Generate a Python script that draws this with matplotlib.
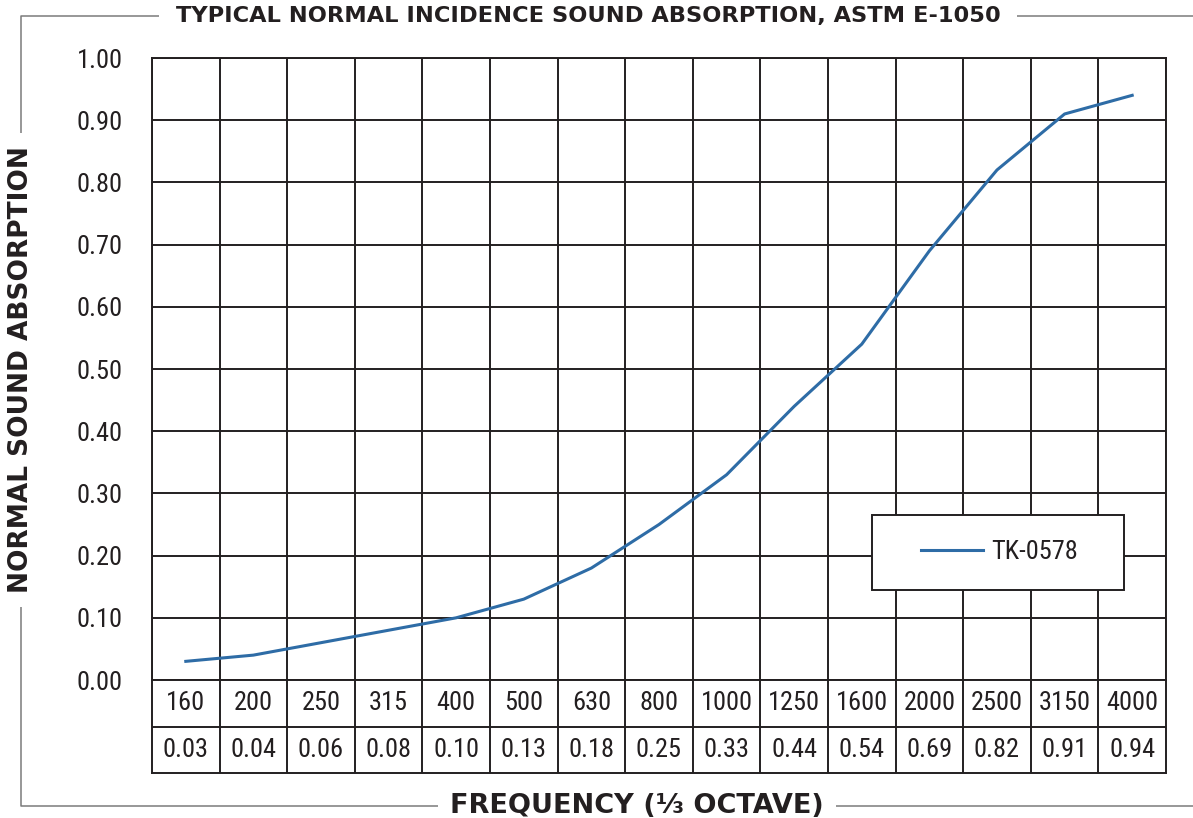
import matplotlib
matplotlib.use('Agg')
import matplotlib.pyplot as plt
import numpy as np
from matplotlib import font_manager
from matplotlib.lines import Line2D
from matplotlib.patches import Rectangle

#region data
freqs = ['160', '200', '250', '315', '400', '500', '630', '800', '1000',
         '1250', '1600', '2000', '2500', '3150', '4000']
absorption = [0.03, 0.04, 0.06, 0.08, 0.10, 0.13, 0.18, 0.25, 0.33,
              0.44, 0.54, 0.69, 0.82, 0.91, 0.94]
series_name = 'TK-0578'
yticks = np.arange(0, 1.01, 0.1)
#endregion

#region fonts
names = {f.name for f in font_manager.fontManager.ttflist}
narrow = next((n for n in ['Liberation Sans Narrow', 'Roboto Condensed', 'Open Sans Condensed']
               if n in names), 'DejaVu Sans')
NARROW = dict(family=[narrow, 'DejaVu Sans'], stretch='condensed')
BOLD = dict(family=['DejaVu Sans'], weight='bold')
#endregion

DARK = '#231f20'
BLUE = '#2e6ca6'
FRAME = '#7a7a7a'
W, H = 1193, 818

#region plots
fig = plt.figure(figsize=(W / 100, H / 100), dpi=100)
ax = fig.add_axes([152 / W, 1 - 680 / H, 1014 / W, 622 / H])
n = len(freqs)
x = np.arange(n)
ax.plot(x, absorption, color=BLUE, lw=2.2, label=series_name, zorder=3)
ax.set_xlim(-0.5, n - 0.5)
ax.set_ylim(0, 1)
ax.set_xticks(np.arange(-0.5, n, 1))
ax.set_xticklabels([])
ax.set_yticks(yticks)
ax.set_yticklabels([f'{v:.2f}' for v in yticks], **NARROW)
ax.tick_params(length=0, pad=21, labelsize=19, labelcolor=DARK)
ax.grid(True, color=DARK, lw=1.4)
for s in ax.spines.values():
    s.set_color(DARK)
    s.set_linewidth(1.4)

# legend box
ax.add_patch(Rectangle((0.710, 0.145), 0.249, 0.121, transform=ax.transAxes,
                       facecolor='white', edgecolor=DARK, lw=1.4, zorder=4))
leg = ax.legend(loc='center', bbox_to_anchor=(0.836, 0.205), frameon=False,
                handlelength=2.35, handletextpad=0.3,
                prop=font_manager.FontProperties(family=[narrow, 'DejaVu Sans'],
                                                 stretch='condensed', size=19))
leg.set_zorder(5)
for t in leg.get_texts():
    t.set_color(DARK)

# table below the plot
tax = fig.add_axes([152 / W, 1 - 773 / H, 1014 / W, 93 / H])
tax.set_xlim(-0.5, n - 0.5)
tax.set_ylim(0, 2)
tax.set_xticks([])
tax.set_yticks([])
for s in tax.spines.values():
    s.set_color(DARK)
    s.set_linewidth(1.4)
for b in np.arange(0.5, n - 0.5, 1):
    tax.axvline(b, color=DARK, lw=1.4)
tax.axhline(1, color=DARK, lw=1.4)
for i in range(n):
    tax.text(i, 1.5, freqs[i], ha='center', va='center', fontsize=19, color=DARK, **NARROW)
    tax.text(i, 0.5, f'{absorption[i]:.2f}', ha='center', va='center', fontsize=19,
             color=DARK, **NARROW)

# outer frame with labels cutting through it
xl, yt, yb = 21 / W, 1 - 16 / H, 1 - 806 / H
fig.add_artist(Line2D([1, xl, xl, 1], [yt, yt, yb, yb], color=FRAME, lw=1.1,
                      transform=fig.transFigure))
fig.text(588 / W, yt, 'TYPICAL NORMAL INCIDENCE SOUND ABSORPTION, ASTM E-1050',
         ha='center', va='center', fontsize=16.2, color=DARK, zorder=5,
         bbox=dict(boxstyle='square,pad=0.75', fc='white', ec='none'), **BOLD)
fig.text(xl, 1 - 370 / H, 'NORMAL SOUND ABSORPTION', rotation=90,
         ha='center', va='center', fontsize=19, color=DARK, zorder=5,
         bbox=dict(boxstyle='square,pad=0.5', fc='white', ec='none'), **BOLD)
fig.text(637 / W, yb, 'FREQUENCY (\u2153 OCTAVE)',
         ha='center', va='center', fontsize=19.5, color=DARK, zorder=5,
         bbox=dict(boxstyle='square,pad=0.45', fc='white', ec='none'), **BOLD)

plt.savefig('out.png', dpi=100)
#endregion
